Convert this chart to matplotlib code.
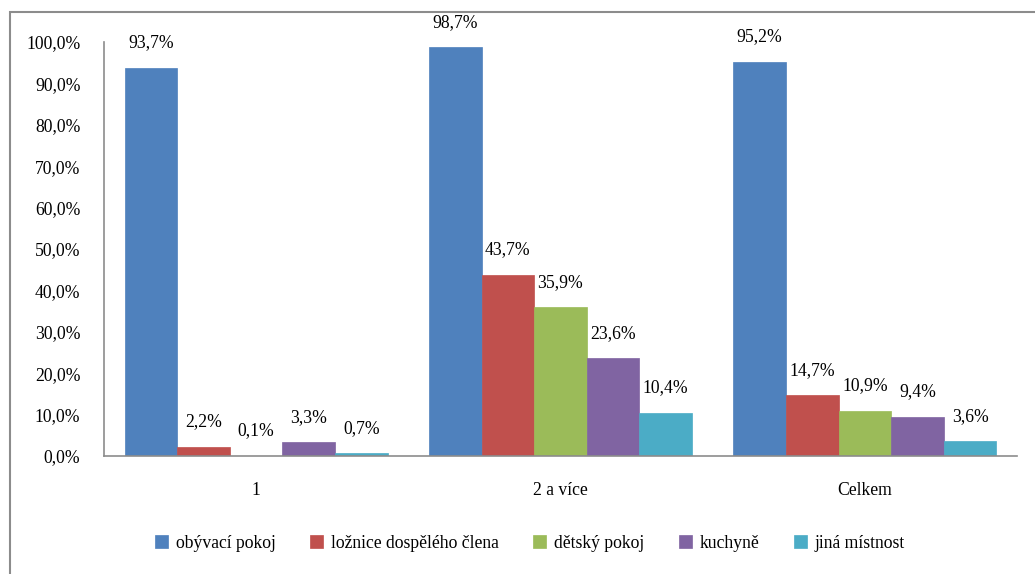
import numpy as np
import matplotlib
matplotlib.use("Agg")
import matplotlib.pyplot as plt
from matplotlib.patches import Rectangle

# categories and series values (percent)
categories = ["1", "2 a více", "Celkem"]
series_names = ["obývací pokoj", "ložnice dospělého člena", "dětský pokoj",
                "kuchyně", "jiná místnost"]
obyvaci = [93.7, 98.7, 95.2]
loznice = [2.2, 43.7, 14.7]
detsky = [0.1, 35.9, 10.9]
kuchyne = [3.3, 23.6, 9.4]
jina = [0.7, 10.4, 3.6]
yticks = np.arange(0, 101, 10)

colors = ["#4F81BD", "#C0504D", "#9BBB59", "#8064A2", "#4BACC6"]
all_series = [obyvaci, loznice, detsky, kuchyne, jina]

plt.rcParams['font.family'] = ['Liberation Serif', 'DejaVu Serif']
FS = 12.7

W, H = 1035, 574
fig = plt.figure(figsize=(W / 100, H / 100), dpi=100)
ax = fig.add_axes([104 / W, 1 - 456 / H, (1017 - 104) / W, (456 - 42) / H])

x = np.arange(len(categories))
width = 0.1728
handles = []
for i, (vals, col) in enumerate(zip(all_series, colors)):
    pos = x + (i - 2) * width
    b = ax.bar(pos, vals, width, color=col, edgecolor=col, linewidth=0.5,
               label=series_names[i])
    handles.append(b)
    for px, v in zip(pos, vals):
        ax.annotate(f"{v:.1f}%".replace(".", ","), (px, v),
                    xytext=(0, 18), textcoords="offset points",
                    ha="center", va="center", fontsize=FS)

ax.set_xlim(-0.5, 2.5)
ax.set_ylim(0, 100)
ax.set_yticks(yticks)
ax.set_yticklabels([f"{t:.1f}%".replace(".", ",") for t in yticks])
ax.set_xticks(x)
ax.set_xticklabels(categories)
ax.tick_params(axis="y", length=0, pad=17, labelsize=FS)
ax.tick_params(axis="x", length=0, pad=19, labelsize=FS)
for s in ["top", "right"]:
    ax.spines[s].set_visible(False)
for s in ["left", "bottom"]:
    ax.spines[s].set_color("#8c8c8c")
    ax.spines[s].set_linewidth(1.2)

fig.legend(handles=handles, loc="center", bbox_to_anchor=(0.512, 1 - 543 / H),
           ncol=5, frameon=False, fontsize=FS, handlelength=0.75,
           handleheight=0.75, handletextpad=0.45, columnspacing=1.93)

# outer chart frame
fig.patches.append(Rectangle((9.5 / W, -0.1), 1.2, 1.1 - 12 / H,
                             transform=fig.transFigure, fill=False,
                             edgecolor="#8c8c8c", linewidth=1.5, clip_on=False))

fig.savefig("out.png", dpi=100, facecolor="white")
